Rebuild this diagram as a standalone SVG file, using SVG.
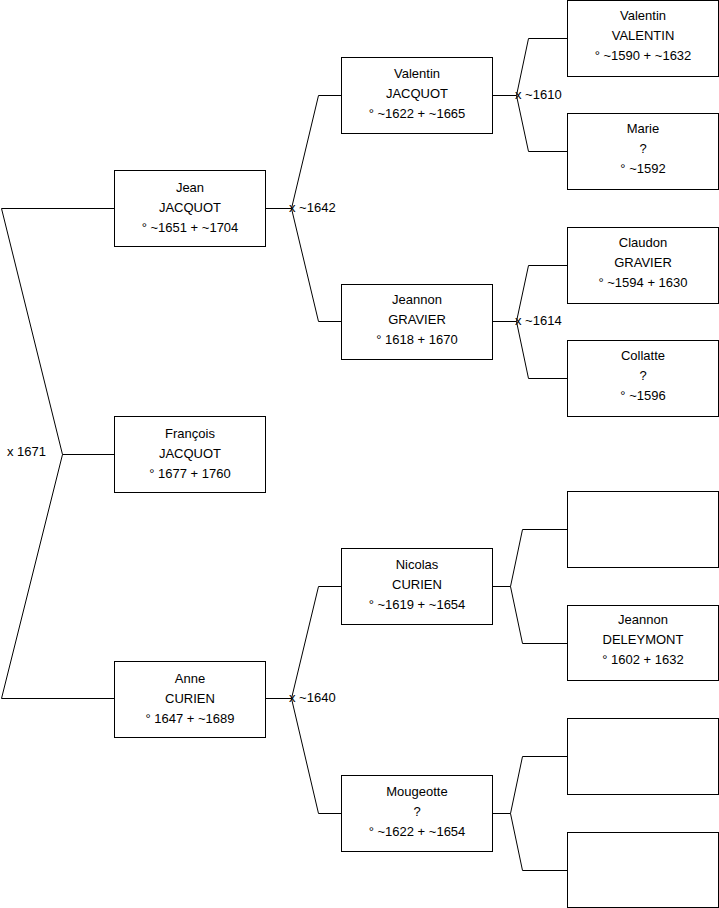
<svg xmlns="http://www.w3.org/2000/svg" width="719" height="908" viewBox="0 0 719 908">
<style>
.box{fill:#fff;stroke:#000;stroke-width:1}
.t{font-family:"Liberation Sans",Arial,sans-serif;font-size:13px;fill:#000;text-anchor:middle}
.l{font-family:"Liberation Sans",Arial,sans-serif;font-size:13px;fill:#000}
.c{fill:none;stroke:#000;stroke-width:1}
</style>
<rect width="719" height="908" fill="#fff"/>
<g id="connectors">
<path class="c" d="M114.5,208.5 H1.5 L62.5,454.5 L1.5,698.5 H114.5 M62.5,454.5 H114.5"/>
<path class="c" d="M265.5,208.5 H291.5 L318.5,95.5 H341.5 M291.5,208.5 L318.5,321.5 H341.5"/>
<path class="c" d="M265.5,698.5 H291.5 L318.5,586.5 H341.5 M291.5,698.5 L318.5,813.5 H341.5"/>
<path class="c" d="M492.5,95.5 H516.5 L528.5,38.5 H567.5 M516.5,95.5 L528.5,151.5 H567.5"/>
<path class="c" d="M492.5,321.5 H516.5 L528.5,265.5 H567.5 M516.5,321.5 L528.5,378.5 H567.5"/>
<path class="c" d="M492.5,586.5 H510.5 L522.5,529.5 H567.5 M510.5,586.5 L522.5,643.5 H567.5"/>
<path class="c" d="M492.5,813.5 H510.5 L522.5,756.5 H567.5 M510.5,813.5 L522.5,870.5 H567.5"/>
<text class="l" x="7" y="456">x 1671</text>
<text class="l" x="289" y="212">x ~1642</text>
<text class="l" x="289" y="702">x ~1640</text>
<text class="l" x="515" y="99">x ~1610</text>
<text class="l" x="515" y="325">x ~1614</text>
</g>
<g id="jean"><rect class="box" x="114.5" y="170.5" width="151" height="76"/><text class="t" x="190" y="192">Jean</text><text class="t" x="190" y="212">JACQUOT</text><text class="t" x="190" y="232">° ~1651 + ~1704</text></g>
<g id="francois"><rect class="box" x="114.5" y="416.5" width="151" height="76"/><text class="t" x="190" y="438">François</text><text class="t" x="190" y="458">JACQUOT</text><text class="t" x="190" y="478">° 1677 + 1760</text></g>
<g id="anne"><rect class="box" x="114.5" y="661.5" width="151" height="76"/><text class="t" x="190" y="683">Anne</text><text class="t" x="190" y="703">CURIEN</text><text class="t" x="190" y="723">° 1647 + ~1689</text></g>
<g id="valentin-jacquot"><rect class="box" x="341.5" y="57.5" width="151" height="76"/><text class="t" x="417" y="78">Valentin</text><text class="t" x="417" y="98">JACQUOT</text><text class="t" x="417" y="118">° ~1622 + ~1665</text></g>
<g id="jeannon-gravier"><rect class="box" x="341.5" y="284.5" width="151" height="75"/><text class="t" x="417" y="304">Jeannon</text><text class="t" x="417" y="324">GRAVIER</text><text class="t" x="417" y="344">° 1618 + 1670</text></g>
<g id="nicolas"><rect class="box" x="341.5" y="548.5" width="151" height="76"/><text class="t" x="417" y="569">Nicolas</text><text class="t" x="417" y="589">CURIEN</text><text class="t" x="417" y="609">° ~1619 + ~1654</text></g>
<g id="mougeotte"><rect class="box" x="341.5" y="775.5" width="151" height="76"/><text class="t" x="417" y="796">Mougeotte</text><text class="t" x="417" y="816">?</text><text class="t" x="417" y="836">° ~1622 + ~1654</text></g>
<g id="valentin-valentin"><rect class="box" x="567.5" y="0.5" width="151" height="76"/><text class="t" x="643" y="20">Valentin</text><text class="t" x="643" y="40">VALENTIN</text><text class="t" x="643" y="60">° ~1590 + ~1632</text></g>
<g id="marie"><rect class="box" x="567.5" y="113.5" width="151" height="76"/><text class="t" x="643" y="133">Marie</text><text class="t" x="643" y="153">?</text><text class="t" x="643" y="173">° ~1592</text></g>
<g id="claudon"><rect class="box" x="567.5" y="227.5" width="151" height="76"/><text class="t" x="643" y="247">Claudon</text><text class="t" x="643" y="267">GRAVIER</text><text class="t" x="643" y="287">° ~1594 + 1630</text></g>
<g id="collatte"><rect class="box" x="567.5" y="340.5" width="151" height="76"/><text class="t" x="643" y="360">Collatte</text><text class="t" x="643" y="380">?</text><text class="t" x="643" y="400">° ~1596</text></g>
<g id="empty1"><rect class="box" x="567.5" y="491.5" width="151" height="76"/></g>
<g id="jeannon-deleymont"><rect class="box" x="567.5" y="605.5" width="151" height="75"/><text class="t" x="643" y="624">Jeannon</text><text class="t" x="643" y="644">DELEYMONT</text><text class="t" x="643" y="664">° 1602 + 1632</text></g>
<g id="empty2"><rect class="box" x="567.5" y="718.5" width="151" height="76"/></g>
<g id="empty3"><rect class="box" x="567.5" y="832.5" width="151" height="75"/></g>
</svg>
